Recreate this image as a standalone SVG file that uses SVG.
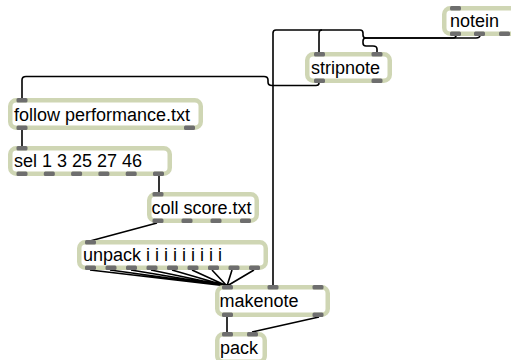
<svg xmlns="http://www.w3.org/2000/svg" width="511" height="360" viewBox="0 0 511 360">
<style>
.box{fill:#ffffff;stroke:#cfd6b4;stroke-width:4.5}
.port{fill:#6e6e6e}
.t{font-family:"Liberation Sans",Arial,sans-serif;font-size:18px;fill:#000}
.c{fill:none;stroke:#000;stroke-width:1.6;stroke-linejoin:round}
</style>
<defs>
<rect id="p" class="port" width="11" height="4.5" rx="1.5"/>
</defs>
<rect width="511" height="360" fill="#fff"/>
<g id="connectors">
<path class="c" d="M456,35 V35.5 Q456,38 453,38 H366 Q363,38 363,35 V33 Q363,30 360,30 H322 Q319,30 319,33 V52"/>
<path class="c" d="M322,30 H276 Q273,30 273,33 V285"/>
<path class="c" d="M480,35 Q480,38 476,38 H366 Q363,38 363,41 V43 Q363,46 366,46 H373 Q377,46 377,49 V52"/>
<path class="c" d="M319,83 V83 Q319,85.5 316,85.5 H272 Q268,85.5 268,82 V80 Q268,76.5 264,76.5 H26 Q22,76.5 22,80 V98"/>
<path class="c" d="M22,130 V146"/>
<path class="c" d="M159,176 V192"/>
<path class="c" d="M157,223 L90,241"/>
<path class="c" d="M90,270 L227,286 M110,270 L227,286 M131,270 L227,286 M151,270 L227,286 M172,270 L227,286 M192,270 L227,286 M212,270 L227,286 M232,270 L227,286 M254,270 L227,286"/>
<path class="c" d="M227,317 V332"/>
<path class="c" d="M319,317 L252,332"/>
</g>
<g id="notein">
<rect class="box" x="444.25" y="8.25" width="100" height="25.5" rx="6"/>
<use href="#p" x="450" y="6"/>
<use href="#p" x="450" y="31.5"/><use href="#p" x="474" y="31.5"/><use href="#p" x="499" y="31.5"/>
<text class="t" x="450" y="27">notein</text>
</g>
<g id="stripnote">
<rect class="box" x="307.25" y="54.25" width="82.5" height="26.5" rx="6"/>
<use href="#p" x="314" y="52"/><use href="#p" x="371.5" y="52"/>
<use href="#p" x="314" y="78.5"/><use href="#p" x="371.5" y="78.5"/>
<text class="t" x="311" y="74">stripnote</text>
</g>
<g id="follow">
<rect class="box" x="10.25" y="100.25" width="190.5" height="27.5" rx="6"/>
<use href="#p" x="16.5" y="98"/>
<use href="#p" x="16.5" y="125.5"/><use href="#p" x="184" y="125.5"/>
<text class="t" x="14" y="120.5">follow performance.txt</text>
</g>
<g id="sel">
<rect class="box" x="10.25" y="148.25" width="159.5" height="25.5" rx="6"/>
<use href="#p" x="16.5" y="146"/>
<use href="#p" x="16.5" y="171.5"/><use href="#p" x="43.8" y="171.5"/><use href="#p" x="71.1" y="171.5"/><use href="#p" x="98.4" y="171.5"/><use href="#p" x="125.7" y="171.5"/><use href="#p" x="153" y="171.5"/>
<text class="t" x="14" y="167">sel 1 3 25 27 46</text>
</g>
<g id="coll">
<rect class="box" x="149.25" y="194.25" width="107.5" height="26.5" rx="6"/>
<use href="#p" x="152.5" y="192"/>
<use href="#p" x="152.5" y="218.5"/><use href="#p" x="181.5" y="218.5"/><use href="#p" x="210.5" y="218.5"/><use href="#p" x="240" y="218.5"/>
<text class="t" x="151.5" y="213.5">coll score.txt</text>
</g>
<g id="unpack">
<rect class="box" x="79.25" y="242.25" width="186.5" height="25.5" rx="6"/>
<use href="#p" x="85" y="240"/>
<use href="#p" x="85" y="265.5"/><use href="#p" x="105.5" y="265.5"/><use href="#p" x="126" y="265.5"/><use href="#p" x="146.5" y="265.5"/><use href="#p" x="167" y="265.5"/><use href="#p" x="187.5" y="265.5"/><use href="#p" x="208" y="265.5"/><use href="#p" x="228.5" y="265.5"/><use href="#p" x="249" y="265.5"/>
<text class="t" x="83" y="260.5">unpack i i i i i i i i i</text>
</g>
<g id="makenote">
<rect class="box" x="217.25" y="287.25" width="110.5" height="27.5" rx="6"/>
<use href="#p" x="222" y="285"/><use href="#p" x="267.5" y="285"/><use href="#p" x="312.5" y="285"/>
<use href="#p" x="222" y="312.5"/><use href="#p" x="312.5" y="312.5"/>
<text class="t" x="219.5" y="306.5">makenote</text>
</g>
<g id="pack">
<rect class="box" x="217.25" y="334.25" width="47.5" height="27.5" rx="6"/>
<use href="#p" x="222" y="332"/><use href="#p" x="247" y="332"/>
<text class="t" x="220" y="353.5">pack</text>
</g>
</svg>
